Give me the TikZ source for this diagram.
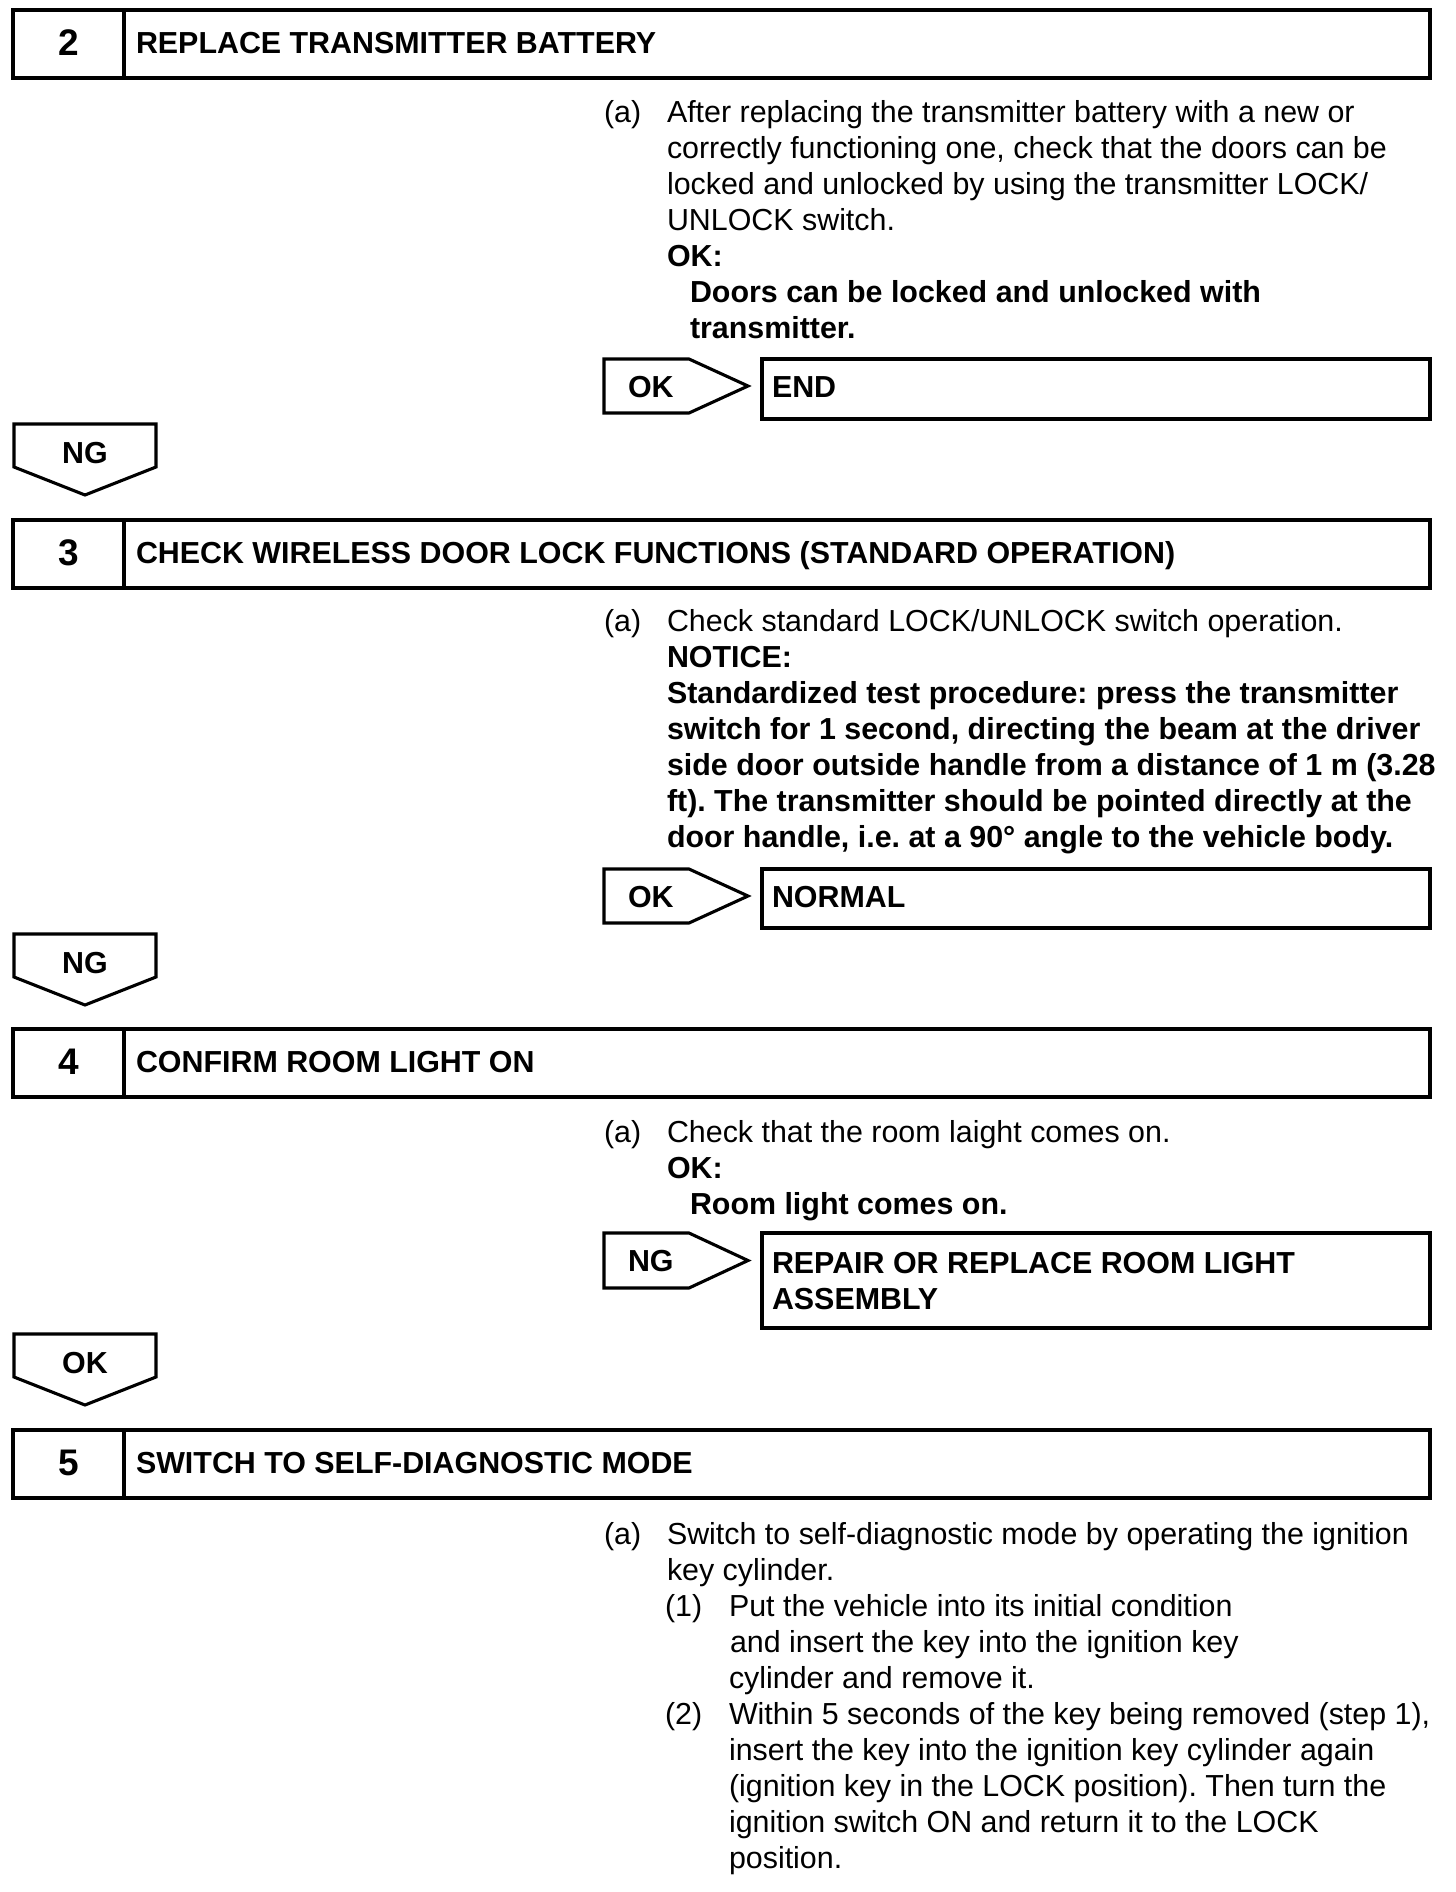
\documentclass[tikz,border=0pt]{standalone}
\usepackage{fontspec}
\setmainfont{Liberation Sans}
\frenchspacing
\newcommand\stephead[4]{%
  \draw[hdrline] (13,#1) rectangle (1430,#1+68);
  \draw[hdrline] (124,#1) -- (124,#1+68);
  \node[numfont, anchor=base] (#4n) at (69,#1+45.5) {#2};
  \node[bold] (#4t) at (136,#1+43.5) {#3};
}
\newcommand\rarrow[4]{%
  \draw[boxline] (604,#1) -- (689,#1) -- (748,{(#1+#2)/2}) -- (689,#2) -- (604,#2) -- cycle;
  \node[bold] (#4) at (628,{(#1+#2)/2+11}) {#3};
}
\newcommand\darrow[3]{%
  \draw[boxline] (14,#1) -- (156,#1) -- (156,#1+43) -- (85,#1+71) -- (14,#1+43) -- cycle;
  \node[bold, anchor=base] (#3) at (85,#1+39) {#2};
}
\begin{document}
\begin{tikzpicture}[x=0.5pt,y=-0.5pt,
  every node/.style={inner sep=0pt, outer sep=0pt, anchor=base west, font=\fontsize{15.2}{18}\selectfont},
  bold/.style={font=\fontsize{15.2}{18}\selectfont\bfseries},
  numfont/.style={font=\fontsize{18.5}{20}\selectfont\bfseries},
  hdrline/.style={line width=1.8pt},
  boxline/.style={line width=1.55pt, line join=miter}]
\useasboundingbox (0,0) rectangle (1456,1892);
\fill[white] (0,0) rectangle (1456,1892);

% ---- Step 2
\stephead{10}{2}{REPLACE TRANSMITTER BATTERY}{h2}
\node (a2) at (604,122) {(a)};
\node (t2) at (667,122) {\vtop{%
  \hbox{After replacing the transmitter battery with a new or}
  \hbox{correctly functioning one, check that the doors can be}
  \hbox{locked and unlocked by using the transmitter LOCK/}
  \hbox{UNLOCK switch.}
  \hbox{\bfseries OK:}
  \hbox{\hspace*{11.5pt}\bfseries Doors can be locked and unlocked with}
  \hbox{\hspace*{11.5pt}\bfseries transmitter.}}};
\rarrow{359}{413}{OK}{ok2}
\draw[boxline] (762,359) rectangle (1430,419);
\node[bold] (end2) at (772,397) {END};
\darrow{424}{NG}{ng2}

% ---- Step 3
\stephead{520}{3}{CHECK WIRELESS DOOR LOCK FUNCTIONS (STANDARD OPERATION)}{h3}
\node (a3) at (604,631) {(a)};
\node (t3) at (667,631) {\vtop{%
  \hbox{Check standard LOCK/UNLOCK switch operation.}
  \hbox{\bfseries NOTICE:}
  \hbox{\bfseries Standardized test procedure: press the transmitter}
  \hbox{\bfseries switch for 1 second, directing the beam at the driver}
  \hbox{\bfseries side door outside handle from a distance of 1 m (3.28}
  \hbox{\bfseries ft). The transmitter should be pointed directly at the}
  \hbox{\bfseries door handle, i.e. at a 90° angle to the vehicle body.}}};
\rarrow{869}{923}{OK}{ok3}
\draw[boxline] (762,869) rectangle (1430,928);
\node[bold] (norm3) at (772,907) {NORMAL};
\darrow{934}{NG}{ng3}

% ---- Step 4
\stephead{1029}{4}{CONFIRM ROOM LIGHT ON}{h4}
\node (a4) at (604,1142) {(a)};
\node (t4) at (667,1142) {\vtop{%
  \hbox{Check that the room laight comes on.}
  \hbox{\bfseries OK:}
  \hbox{\hspace*{11.5pt}\bfseries Room light comes on.}}};
\rarrow{1233}{1288}{NG}{ng4}
\draw[boxline] (762,1233) rectangle (1430,1328);
\node[bold] (rep4) at (772,1273) {\vtop{%
  \hbox{REPAIR OR REPLACE ROOM LIGHT}
  \hbox{ASSEMBLY}}};
\darrow{1334}{OK}{ok4}

% ---- Step 5
\stephead{1430}{5}{SWITCH TO SELF-DIAGNOSTIC MODE}{h5}
\node (a5) at (604,1544) {(a)};
\node (t5) at (667,1544) {\vtop{%
  \hbox{Switch to self-diagnostic mode by operating the ignition}
  \hbox{key cylinder.}}};
\node (n51) at (665,1616) {(1)};
\node (t51) at (729,1616) {\vtop{%
  \hbox{Put the vehicle into its initial condition}
  \hbox{\hspace*{0.5pt}and insert the key into the ignition key}
  \hbox{cylinder and remove it.}}};
\node (n52) at (665,1724) {(2)};
\node (t52) at (729,1724) {\vtop{%
  \hbox{Within 5 seconds of the key being removed (step 1),}
  \hbox{insert the key into the ignition key cylinder again}
  \hbox{(ignition key in the LOCK position). Then turn the}
  \hbox{ignition switch ON and return it to the LOCK}
  \hbox{position.}}};
\end{tikzpicture}
\end{document}
